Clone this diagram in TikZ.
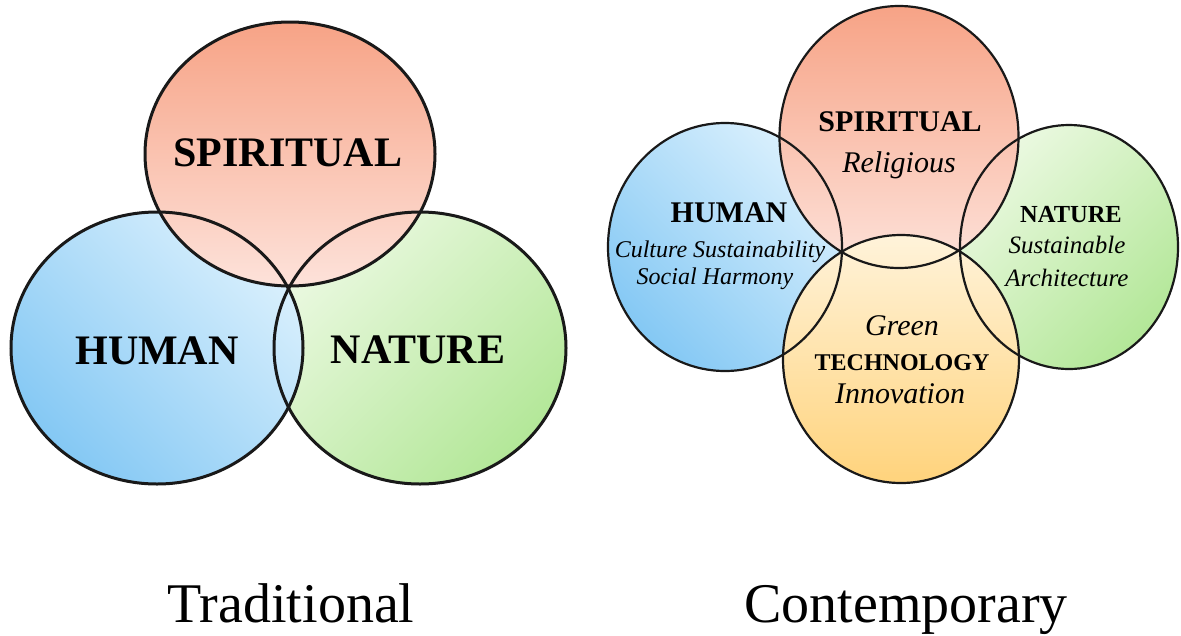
\documentclass[tikz,border=0pt]{standalone}
\usepackage{fontspec}
\setmainfont{Liberation Serif}
\usepackage{xcolor}
\usepackage{tikz}

\definecolor{spirTop}{HTML}{F7A386}
\definecolor{spirBot}{HTML}{FDE2DA}
\definecolor{humDark}{HTML}{84C8F4}
\definecolor{humLight}{HTML}{DAF0FD}
\definecolor{natLight}{HTML}{EBF9E1}
\definecolor{natDark}{HTML}{B3E798}
\definecolor{techTop}{HTML}{FFF3DA}
\definecolor{techBot}{HTML}{FFD37C}

\newcommand{\fsz}[1]{\fontsize{#1}{#1}\selectfont}

\tikzset{
  ring/.style={draw=black!90, line width=#1},
  ring/.default=3pt,
  head/.style={font={\bfseries\fsz{#1}}, anchor=base, inner sep=0pt},
  head/.default=30,
  sub/.style={font={\itshape\fsz{#1}}, anchor=base, inner sep=0pt},
  sub/.default=30,
  caption/.style={font=\fsz{56}, anchor=base, inner sep=0pt}
}

\begin{document}
\begin{tikzpicture}[x=1pt,y=-1pt]
  \useasboundingbox (0,0) rectangle (1181,635);

  % traditional: three overlapping rings
  \shade[top color=natLight, bottom color=natDark, shading angle=45] (420,348) ellipse (146pt and 136pt);
  \shade[top color=humLight, bottom color=humDark, shading angle=-45] (157,348) ellipse (146pt and 136pt);
  \shade[top color=spirTop, bottom color=spirBot] (290,154) ellipse (145pt and 132pt);
  \foreach \cx/\cy/\rx/\ry in {290/154/145/132, 157/348/146/136, 420/348/146/136}
    \draw[ring] (\cx,\cy) ellipse (\rx pt and \ry pt);

  \node[head=42] (tSpir) at (288,166) {SPIRITUAL};
  \node[head=42] (tHum) at (157,364) {HUMAN};
  \node[head=42] (tNat) at (418,363) {NATURE};

  % contemporary: four rings
  \shade[top color=humLight, bottom color=humDark, shading angle=-45] (725,247) ellipse (117pt and 124pt);
  \shade[top color=natLight, bottom color=natDark, shading angle=45] (1069,247) ellipse (109pt and 122pt);
  \shade[top color=spirTop, bottom color=spirBot] (899,137) ellipse (119.5pt and 131pt);
  \shade[top color=techTop, bottom color=techBot] (901,359) ellipse (118pt and 124pt);
  \foreach \cx/\cy/\rx/\ry in {725/247/117/124, 1069/247/109/122, 899/137/119.5/131, 901/359/118/124}
    \draw[ring=2.2pt] (\cx,\cy) ellipse (\rx pt and \ry pt);

  \node[head] (cSpir) at (900,131) {SPIRITUAL};
  \node[sub] (cRel) at (899,172) {Religious};
  \node[head] (cHum) at (729,222) {HUMAN};
  \node[sub=24] (cCult) at (720,257) {Culture Sustainability};
  \node[sub=24] (cSoc) at (715,284) {Social Harmony};
  \node[head=24.5] (cNat) at (1071,222) {NATURE};
  \node[sub=25] (cSus) at (1067,253) {Sustainable};
  \node[sub=25] (cArch) at (1067,286) {Architecture};
  \node[sub] (cGreen) at (902,335) {Green};
  \node[head=24] (cTech) at (902,370) {TECHNOLOGY};
  \node[sub] (cInno) at (900,403) {Innovation};

  \node[caption] (capTrad) at (291,622) {Traditional};
  \node[caption] (capCont) at (906,622) {Contemporary};
\end{tikzpicture}
\end{document}
